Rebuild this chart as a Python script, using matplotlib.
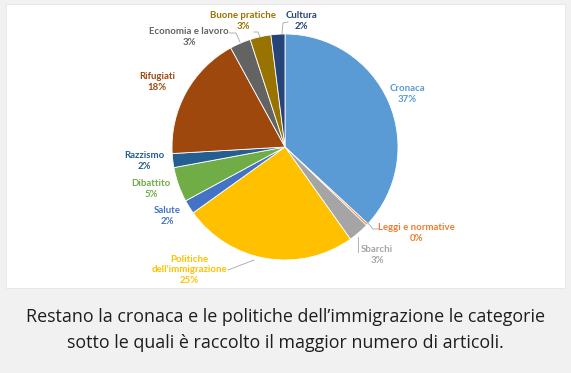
import matplotlib.pyplot as plt

# data
categories = ["Cronaca", "Leggi e normative", "Sbarchi", "Politiche\ndell'immigrazione",
              "Salute", "Dibattito", "Razzismo", "Rifugiati", "Economia e lavoro",
              "Buone pratiche", "Cultura"]
values = [37, 0.3, 3, 25, 2, 5, 2, 18, 3, 3, 2]
pct_labels = ["37%", "0%", "3%", "25%", "2%", "5%", "2%", "18%", "3%", "3%", "2%"]
colors = ["#5B9BD5", "#ED7D31", "#A5A5A5", "#FFC000", "#4472C4", "#70AD47",
          "#255E91", "#9E480E", "#636363", "#997300", "#264478"]
caption = ("Restano la cronaca e le politiche dell\u2019immigrazione le categorie\n"
           "sotto le quali è raccolto il maggior numero di articoli.")

W, H = 571, 373


def Y(y):
    # image pixel row -> axes y
    return H - y


# label centres (image pixels) and leader lines
label_pos = [(407, 94), (416, 233), (377, 255), (189, 270), (167, 216), (151, 189),
             (144, 161), (157, 82), (189, 37), (243, 21), (301, 21)]
leaders = {
    1: [(367, 222), (373, 229), (379, 229)],
    2: [(358, 237), (358, 252)],
    3: [(228, 270), (254, 260)],
    8: [(229, 33), (236, 33), (240, 42)],
    9: [(254, 32), (258, 32), (260, 37)],
    10: [(288, 22), (283, 23), (282, 34)],
}

fig = plt.figure(figsize=(W / 100, H / 100), dpi=100)
fig.patch.set_facecolor("#f1f1f1")
ax = fig.add_axes([0, 0, 1, 1])

ax.add_patch(plt.Rectangle((6, Y(288)), 559, 284, facecolor="white",
                           edgecolor="#e6e6e6", linewidth=0.6))

ax.pie(values, colors=colors, startangle=90, counterclock=False,
       center=(285, Y(147)), radius=113, frame=True,
       wedgeprops=dict(edgecolor="white", linewidth=0.6))
ax.set_xlim(0, W)
ax.set_ylim(0, H)
ax.set_aspect("equal")
ax.axis("off")

for i, (cat, pct) in enumerate(zip(categories, pct_labels)):
    x, y = label_pos[i]
    ax.text(x, Y(y), f"{cat}\n{pct}", ha="center", va="center", fontsize=6.9,
            fontweight="bold", family="Lato", color=colors[i], linespacing=1.2)

for pts in leaders.values():
    ax.plot([p[0] for p in pts], [Y(p[1]) for p in pts], color="#A6A6A6", lw=0.6)

ax.text(285, Y(330), caption, ha="center", va="center", fontsize=12.9,
        family="Open Sans", color="#1e1e1e", linespacing=1.6)

fig.savefig("out.png", dpi=100, facecolor=fig.get_facecolor())
